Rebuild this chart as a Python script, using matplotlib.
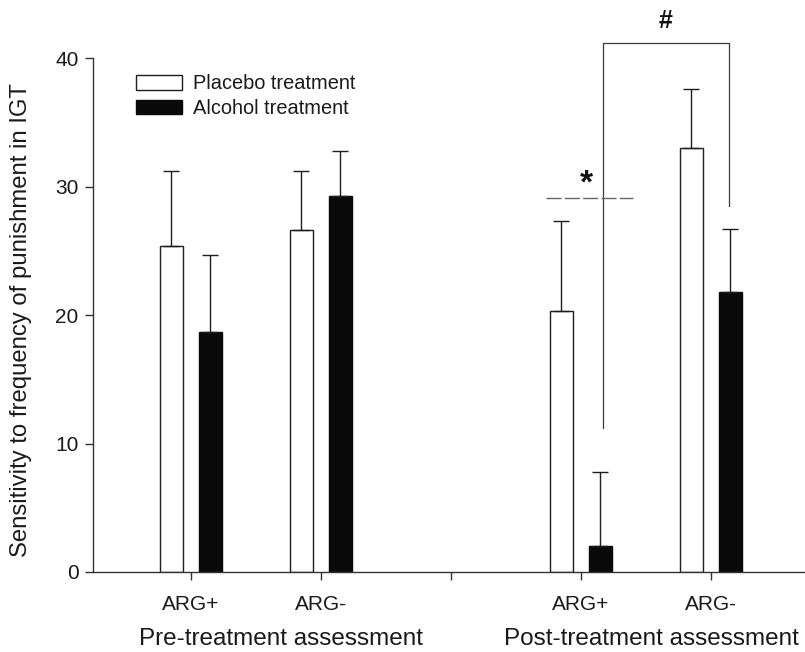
"""
Sensitivity to frequency of punishment in IGT, placebo vs alcohol, pre/post treatment"""
import numpy as np
import matplotlib
matplotlib.use("Agg")
import matplotlib.pyplot as plt

plt.rcParams['font.family'] = ['Liberation Sans', 'DejaVu Sans']

# data
categories = ['ARG+', 'ARG-', 'ARG+', 'ARG-']
positions = [1, 2, 4, 5]
placebo_mean = [25.4, 26.6, 20.3, 33.0]
placebo_err = [5.8, 4.6, 7.0, 4.6]
alcohol_mean = [18.7, 29.3, 2.0, 21.8]
alcohol_err = [6.0, 3.5, 5.8, 4.9]
group_labels = ['Pre-treatment assessment', 'Post-treatment assessment']

fig = plt.figure(figsize=(8.05, 6.52), dpi=100)
ax = fig.add_axes([0.1155, 0.1227, 0.8845, 0.7883])

x = np.array(positions, dtype=float)
off = 0.15
w = 0.18
line_col = '#1e1e1e'

ax.bar(x - off, placebo_mean, w, color='white', edgecolor=line_col, linewidth=1.0,
       label='Placebo treatment', zorder=2)
ax.bar(x + off, alcohol_mean, w, color='#0a0a0a', edgecolor='#0a0a0a', linewidth=1.0,
       label='Alcohol treatment', zorder=2)
ax.errorbar(x - off, placebo_mean, yerr=[np.zeros(4), placebo_err], fmt='none',
            ecolor=line_col, elinewidth=1.0, capsize=5.5, capthick=1.0, zorder=3)
ax.errorbar(x + off, alcohol_mean, yerr=[np.zeros(4), alcohol_err], fmt='none',
            ecolor=line_col, elinewidth=1.0, capsize=5.5, capthick=1.0, zorder=3)

ax.set_xlim(0.2485, 5.723)
ax.set_ylim(0, 40)
ax.set_yticks([0, 10, 20, 30, 40])
ax.set_xticks([1, 2, 3, 4, 5])
ax.set_xticklabels(['ARG+', 'ARG-', '', 'ARG+', 'ARG-'])

for s in ['top', 'right']:
    ax.spines[s].set_visible(False)
for s in ['left', 'bottom']:
    ax.spines[s].set_color('#333333')
    ax.spines[s].set_linewidth(1.0)
ax.tick_params(axis='both', direction='out', length=5.5, width=1.0, color='#333333',
               labelsize=15, labelcolor='#1a1a1a')
ax.tick_params(axis='x', pad=11)
ax.tick_params(axis='y', pad=5)

ax.set_ylabel('Sensitivity to frequency of punishment in IGT', fontsize=17.2, color='#1a1a1a')
ax.yaxis.set_label_coords(-0.0857, 0.49)

# group labels under the ticks
ax.text(1.695, -0.130, group_labels[0], transform=ax.get_xaxis_transform(), ha='center',
        va='center', fontsize=17.5, color='#1a1a1a')
ax.text(4.54, -0.130, group_labels[1], transform=ax.get_xaxis_transform(), ha='center',
        va='center', fontsize=17.5, color='#1a1a1a')

leg = ax.legend(loc='upper left', bbox_to_anchor=(0.06, 0.968), frameon=False, fontsize=14.4,
                handlelength=2.3, handleheight=0.75, handletextpad=0.56, labelspacing=0.28,
                borderpad=0, borderaxespad=0)
for t in leg.get_texts():
    t.set_color('#1a1a1a')

# significance marks
br_col = '#3a3a3a'
ax.plot([4.167, 4.167, 5.138, 5.138], [11.2, 41.2, 41.2, 28.5], color=br_col,
        linewidth=0.9, clip_on=False, zorder=1)
ax.text(4.65, 42.9, '#', ha='center', va='center', fontsize=18, fontweight='bold',
        color='#111111', clip_on=False)
dash, = ax.plot([3.73, 4.40], [29.1, 29.1], color='#666666', linewidth=1.0, zorder=1)
dash.set_dashes((10.8, 2.4))
ax.text(4.04, 30.2, '*', ha='center', va='center', fontsize=24, fontweight='bold',
        color='#111111')

plt.savefig('out.png', dpi=100)
